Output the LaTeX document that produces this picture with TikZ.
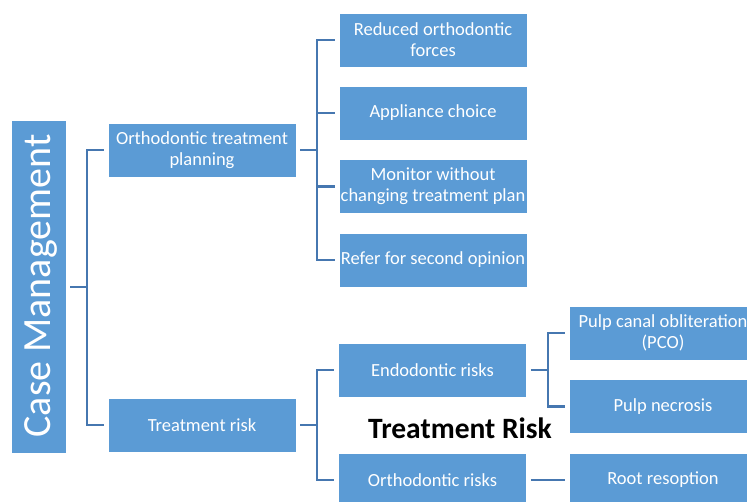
\documentclass[tikz,border=0pt]{standalone}
\usepackage{fontspec}
\setmainfont{Carlito}
\definecolor{boxblue}{HTML}{5B9BD5}
\definecolor{lineblue}{HTML}{4677B0}
\begin{document}
\begin{tikzpicture}[x=1pt,y=-1pt,
  box/.style={rectangle, fill=boxblue, draw=white, line width=0.6pt, minimum width=188pt, minimum height=54pt,
    inner sep=0pt, text=white, align=center, font=\fontsize{18.5}{21}\selectfont},
  conn/.style={draw=lineblue, line width=2.2pt}]
\useasboundingbox (0,0) rectangle (747,502);
\clip (0,0) rectangle (747,502);
% boxes
\node[box, minimum width=55pt, minimum height=333pt] (cm) at (38.5,287) {};
\node[rotate=90, anchor=base, text=white, font=\fontsize{40}{44}\selectfont, inner sep=0pt] (cmt) at (50,286) {Case Management};
\node[box] (otp) at (202,150) {Orthodontic treatment\\planning};
\node[box] (tr) at (202,425) {Treatment risk};
\node[box] (r1) at (433,40) {Reduced orthodontic\\forces};
\node[box] (r2) at (433,113) {Appliance choice};
\node[box] (r3) at (433,186.5) {Monitor without\\changing treatment plan};
\node[box] (r4) at (433,260) {Refer for second opinion};
\node[box] (endo) at (432.5,370) {Endodontic risks};
\node[box] (ortho) at (432.5,480) {Orthodontic risks};
\node[box] (pco) at (663,333) {Pulp canal obliteration\\(PCO)};
\node[box] (pn) at (663,406.5) {Pulp necrosis};
\node[box] (rr) at (663,480) {Root resoption};
\node[font=\fontsize{29.5}{33}\selectfont\bfseries, text=black, inner sep=0pt] (title) at (460,428) {Treatment Risk};
% connectors
\coordinate (j0) at ([xshift=21pt]cm.east);
\draw[conn] ([xshift=4pt]cm.east) -- (j0);
\draw[conn] (j0) |- ([xshift=-4pt]otp.west);
\draw[conn] (j0) |- ([xshift=-4pt]tr.west);
\coordinate (j1) at ([xshift=21pt]otp.east);
\draw[conn] ([xshift=4pt]otp.east) -- (j1);
\draw[conn] (j1) |- ([xshift=-4pt]r1.west);
\draw[conn] (j1) |- ([xshift=-4pt]r2.west);
\draw[conn] (j1) |- ([xshift=-4pt]r3.west);
\draw[conn] (j1) |- ([xshift=-4pt]r4.west);
\coordinate (j2) at ([xshift=21pt]tr.east);
\draw[conn] ([xshift=4pt]tr.east) -- (j2);
\draw[conn] (j2) |- ([xshift=-4pt]endo.west);
\draw[conn] (j2) |- ([xshift=-4pt]ortho.west);
\coordinate (j3) at ([xshift=21pt]endo.east);
\draw[conn] ([xshift=4pt]endo.east) -- (j3);
\draw[conn] (j3) |- ([xshift=-4pt]pco.west);
\draw[conn] (j3) |- ([xshift=-4pt]pn.west);
\draw[conn] ([xshift=4pt]ortho.east) -- ([xshift=-4pt]rr.west);
\end{tikzpicture}
\end{document}
